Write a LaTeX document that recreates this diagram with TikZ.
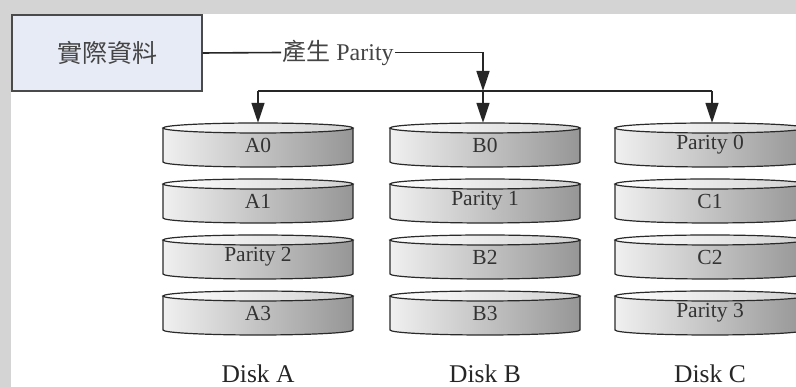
\documentclass[tikz,border=0pt]{standalone}
\usepackage{fontspec}
\setmainfont{Liberation Serif}
\newfontfamily\cjk{Noto Sans CJK TC}
\usetikzlibrary{arrows.meta}
\definecolor{bggray}{HTML}{D4D4D4}
\definecolor{boxfill}{HTML}{E7EBF5}
\definecolor{boxline}{HTML}{4A4A4A}
\definecolor{txtgray}{HTML}{444444}
\definecolor{diskL}{HTML}{F0F0F0}
\definecolor{diskM}{HTML}{D6D6D6}
\definecolor{diskR}{HTML}{969696}
\definecolor{diskedge}{HTML}{2A2A2A}
\tikzset{
  conn/.style={draw=black!85, line width=1.6pt},
  arr/.style={conn, -{Triangle[length=20pt,width=13pt]}},
  srcbox/.style={draw=boxline, fill=boxfill, line width=1.3pt, minimum width=190pt, minimum height=76pt, inner sep=0pt, text=txtgray, font=\cjk\fontsize{25}{28}\selectfont},
  genlbl/.style={inner sep=1pt, text=txtgray, font=\fontsize{24}{26}\selectfont},
  disklbl/.style={minimum width=190pt, minimum height=44pt, inner sep=0pt, text=black!80, font=\fontsize{21.5}{23}\selectfont},
  disktitle/.style={inner sep=0pt, text=black!85, font=\fontsize{25.5}{27}\selectfont},
  diskedge/.style={draw=diskedge, line width=1.2pt},
  disk/.pic={
    \shade[left color=diskL, middle color=diskM, right color=diskR]
      (-95,17) -- (-95,-17) arc[start angle=180,end angle=360,x radius=95,y radius=5]
      -- (95,17) arc[start angle=0,end angle=180,x radius=95,y radius=5] -- cycle;
    \shade[left color=white, right color=black!18] (0,17) ellipse[x radius=95,y radius=5];
    \draw[diskedge] (-95,17) -- (-95,-17) arc[start angle=180,end angle=360,x radius=95,y radius=5] -- (95,17);
    \draw[diskedge] (0,17) ellipse[x radius=95,y radius=5];
  }
}
\begin{document}
\begin{tikzpicture}[x=1pt,y=1pt]
\clip (0,0) rectangle (796,387);
\fill[bggray] (0,0) rectangle (796,387);
\fill[white] (11,0) rectangle (796,373);

% source box
\node[srcbox] (src) at (107,334) {實際資料};
\node[genlbl] (gen) at (338,334.5) {{\cjk 產生} Parity};
\coordinate (hub) at (483,296);
\coordinate (splA) at (258,296);
\coordinate (splC) at (712,296);

% disks
\foreach \cx/\col in {258/A,485/B,710/C}{
  \foreach \cy in {242,186,130,74}{
    \pic at (\cx,\cy) {disk};
  }
}
\node[disklbl] (a0) at (258,242) {A0};
\node[disklbl] (a1) at (258,186) {A1};
\node[disklbl] (a2) at (258,130) {Parity 2};
\node[disklbl] (a3) at (258,74) {A3};
\node[disklbl] (b0) at (485,242) {B0};
\node[disklbl] (b1) at (485,186) {Parity 1};
\node[disklbl] (b2) at (485,130) {B2};
\node[disklbl] (b3) at (485,74) {B3};
\node[disklbl] (c0) at (710,242) {Parity 0};
\node[disklbl] (c1) at (710,186) {C1};
\node[disklbl] (c2) at (710,130) {C2};
\node[disklbl] (c3) at (710,74) {Parity 3};

\node[disktitle] (ta) at (258,13) {Disk A};
\node[disktitle] (tb) at (485,13) {Disk B};
\node[disktitle] (tc) at (710,13) {Disk C};

% connectors
\draw[conn] (src.east) -- (gen.west);
\draw[arr] (gen.east) -| (hub);
\draw[conn] (splA) -- (splC);
\draw[arr] (splA) -- (a0.north);
\draw[arr] (hub) -- (b0.north -| hub);
\draw[arr] (splC) -- (c0.north -| splC);
\end{tikzpicture}
\end{document}
